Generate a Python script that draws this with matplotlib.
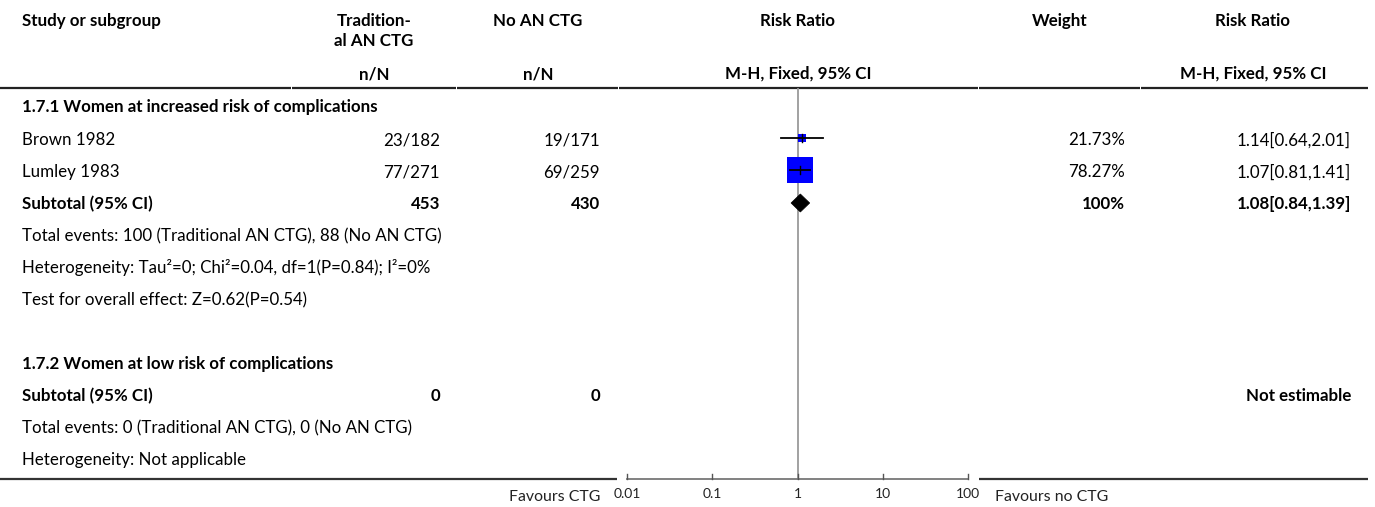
import numpy as np
import matplotlib
matplotlib.use("Agg")
import matplotlib.pyplot as plt
from matplotlib.patches import Polygon

plt.rcParams['font.family'] = ['Lato', 'DejaVu Sans']

# ---- data ----
studies = ["Brown 1982", "Lumley 1983"]
trad_events = ["23/182", "77/271"]
ctrl_events = ["19/171", "69/259"]
rr = [1.14, 1.07]
rr_lo = [0.64, 0.81]
rr_hi = [2.01, 1.41]
weights = [21.73, 78.27]
weight_labels = ["21.73%", "78.27%"]
rr_labels = ["1.14[0.64,2.01]", "1.07[0.81,1.41]"]

sub1_n = ["453", "430"]
sub1_rr, sub1_lo, sub1_hi = 1.08, 0.84, 1.39
sub1_weight = "100%"
sub1_label = "1.08[0.84,1.39]"

sub2_n = ["0", "0"]
sub2_label = "Not estimable"

axis_ticks = [0.01, 0.1, 1, 10, 100]
tick_labels = ["0.01", "0.1", "1", "10", "100"]

W, H = 1375, 507
fig = plt.figure(figsize=(W / 100, H / 100), dpi=100)
ax = fig.add_axes([0, 0, 1, 1])
ax.set_xlim(0, W)
ax.set_ylim(H, 0)
ax.axis('off')

FS = 12.2
BOLD = 'bold'

def txt(x, y, s, ha='left', bold=False, size=FS, color='black'):
    ax.text(x, y, s, ha=ha, va='center', fontsize=size,
            fontweight=BOLD if bold else 'normal', color=color)

# column geometry
X_STUDY = 22
C_TRAD, R_TRAD = 374, 440
C_CTRL, R_CTRL = 538, 600
C_PLOT = 798
C_WT, R_WT = 1060, 1125
C_RR, R_RR = 1253, 1351

# header
txt(X_STUDY, 21, "Study or subgroup", bold=True)
txt(C_TRAD, 21, "Tradition-", ha='center', bold=True)
txt(C_TRAD, 41, "al AN CTG", ha='center', bold=True)
txt(C_CTRL, 21, "No AN CTG", ha='center', bold=True)
txt(C_PLOT, 21, "Risk Ratio", ha='center', bold=True)
txt(C_WT, 21, "Weight", ha='center', bold=True)
txt(C_RR, 21, "Risk Ratio", ha='center', bold=True)
txt(C_TRAD, 74, "n/N", ha='center', bold=True)
txt(C_CTRL, 74, "n/N", ha='center', bold=True)
txt(C_PLOT, 74, "M-H, Fixed, 95% CI", ha='center', bold=True)
txt(C_RR, 74, "M-H, Fixed, 95% CI", ha='center', bold=True)

# header rule, one segment per column
for x0, x1 in [(0, 291), (292.5, 456), (457.5, 618), (619.5, 978), (979.5, 1140), (1141.5, 1368)]:
    ax.plot([x0, x1], [87.5, 87.5], color='#222222', lw=1.6, solid_capstyle='butt')

# body rows
ROW = 32
y = 107
txt(X_STUDY, y, "1.7.1 Women at increased risk of complications", bold=True)
study_rows = []
for i, name in enumerate(studies):
    y += ROW if i else 33
    study_rows.append(y)
    txt(X_STUDY, y, name)
    txt(R_TRAD, y, trad_events[i], ha='right')
    txt(R_CTRL, y, ctrl_events[i], ha='right')
    txt(R_WT, y, weight_labels[i], ha='right')
    txt(R_RR, y, rr_labels[i], ha='right')
y += ROW
sub1_y = y
txt(X_STUDY, y, "Subtotal (95% CI)", bold=True)
txt(R_TRAD, y, sub1_n[0], ha='right', bold=True)
txt(R_CTRL, y, sub1_n[1], ha='right', bold=True)
txt(R_WT, y, sub1_weight, ha='right', bold=True)
txt(R_RR, y, sub1_label, ha='right', bold=True)
y += ROW
txt(X_STUDY, y, "Total events: 100 (Traditional AN CTG), 88 (No AN CTG)")
y += ROW
txt(X_STUDY, y, "Heterogeneity: Tau\u00b2=0; Chi\u00b2=0.04, df=1(P=0.84); I\u00b2=0%")
y += ROW
txt(X_STUDY, y, "Test for overall effect: Z=0.62(P=0.54)")
y += 2 * ROW
txt(X_STUDY, y, "1.7.2 Women at low risk of complications", bold=True)
y += ROW
txt(X_STUDY, y, "Subtotal (95% CI)", bold=True)
txt(R_TRAD, y, sub2_n[0], ha='right', bold=True)
txt(R_CTRL, y, sub2_n[1], ha='right', bold=True)
txt(R_RR, y, sub2_label, ha='right', bold=True)
y += ROW
txt(X_STUDY, y, "Total events: 0 (Traditional AN CTG), 0 (No AN CTG)")
y += ROW
txt(X_STUDY, y, "Heterogeneity: Not applicable")

# bottom rule on either side of the forest axis
AX_Y = 479
ax.plot([0, 617], [AX_Y, AX_Y], color='#333333', lw=1.6, solid_capstyle='butt')
ax.plot([979, 1368], [AX_Y, AX_Y], color='#333333', lw=1.6, solid_capstyle='butt')
txt(600, 497, "Favours CTG", ha='right', size=11.4, color='#222222')
txt(995, 497, "Favours no CTG", ha='left', size=11.4, color='#222222')

# ---- forest plot on a log axis ----
PX0, PX1 = 627, 968
fa = fig.add_axes([PX0 / W, 0, (PX1 - PX0) / W, 1])
fa.set_xscale('log')
fa.set_xlim(axis_ticks[0], axis_ticks[-1])
fa.set_ylim(H, 0)
fa.axis('off')

# line of no effect
fa.plot([1, 1], [89, AX_Y], color='#9a9a9a', lw=1.3, zorder=1)

# axis with upward ticks
fa.plot([axis_ticks[0], axis_ticks[-1]], [AX_Y, AX_Y], color='#777777', lw=1.3,
        clip_on=False, zorder=2)
for t, lab in zip(axis_ticks, tick_labels):
    fa.plot([t, t], [AX_Y, AX_Y - 5], color='#555555', lw=1.0, clip_on=False)
    fa.text(t, 494, lab, ha='center', va='center', fontsize=10, color='#222222')

# study estimates: box side proportional to weight
for i, yy in enumerate(study_rows):
    ym = yy - 2
    side_px = weights[i] * 26 / 78.27
    fa.plot([rr_lo[i], rr_hi[i]], [ym, ym], color='black', lw=1.3, zorder=3,
            clip_on=False)
    fa.plot([rr[i]], [ym], marker='s', markersize=side_px * 0.72,
            color='#0000ff', markeredgewidth=0, zorder=2, clip_on=False)
    fa.plot([rr[i], rr[i]], [ym - 4, ym + 4], color='black', lw=1.0, zorder=3)

# pooled diamond
ym = sub1_y - 1
dia = Polygon([(sub1_lo, ym), (sub1_rr, ym - 9), (sub1_hi, ym), (sub1_rr, ym + 9)],
              closed=True, facecolor='black', edgecolor='black', lw=0.5, zorder=3)
fa.add_patch(dia)

fig.savefig("out.png", dpi=100)
